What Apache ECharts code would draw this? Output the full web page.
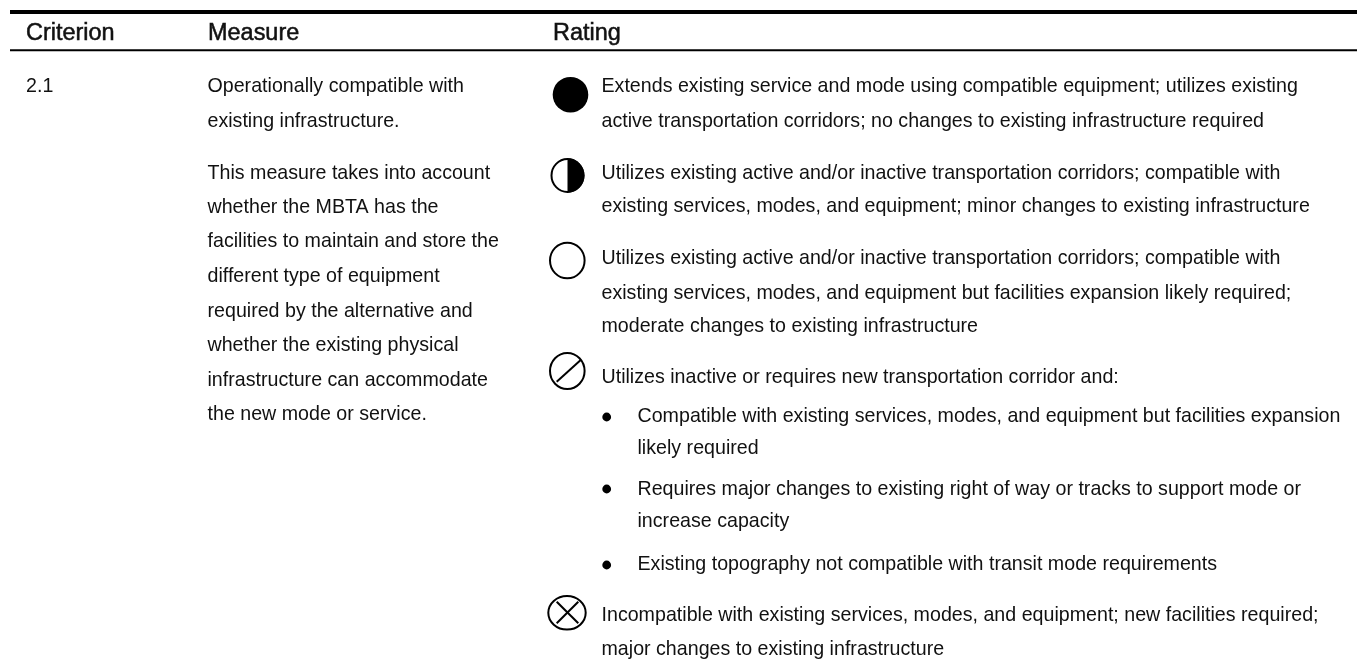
<!DOCTYPE html>
<html><head><meta charset="utf-8">
<style>html,body{margin:0;padding:0;background:#fff}#c{width:1362px;height:667px}</style>
<script src="https://cdn.jsdelivr.net/npm/echarts@6/dist/echarts.min.js"></script></head>
<body><div id="c"></div>
<script>
const headers = ["Criterion", "Measure", "Rating"];
const criterion = ["2.1"];
const measureLines = ["Operationally compatible with", "existing infrastructure.", "This measure takes into account", "whether the MBTA has the", "facilities to maintain and store the", "different type of equipment", "required by the alternative and", "whether the existing physical", "infrastructure can accommodate", "the new mode or service."];
const ratingLines = [
 "Extends existing service and mode using compatible equipment; utilizes existing",
 "active transportation corridors; no changes to existing infrastructure required",
 "Utilizes existing active and/or inactive transportation corridors; compatible with",
 "existing services, modes, and equipment; minor changes to existing infrastructure",
 "Utilizes existing active and/or inactive transportation corridors; compatible with",
 "existing services, modes, and equipment but facilities expansion likely required;",
 "moderate changes to existing infrastructure",
 "Utilizes inactive or requires new transportation corridor and:",
 "Incompatible with existing services, modes, and equipment; new facilities required;",
 "major changes to existing infrastructure"];
const bulletLines = [
 "Compatible with existing services, modes, and equipment but facilities expansion",
 "likely required",
 "Requires major changes to existing right of way or tracks to support mode or",
 "increase capacity",
 "Existing topography not compatible with transit mode requirements"];

const FONT = '"Liberation Sans",sans-serif';
const el = [];
const txt = (s, x, baseline, size=21, sx=0.935, stroke=0) => el.push({type:'text', x, y:baseline-size/3, scaleX:sx, style:{text:s, fill:'#111', stroke: stroke ? '#111' : null, lineWidth: stroke, font:`normal ${size}px ${FONT}`, textBaseline:'middle', textVerticalAlign:'middle'}});
const rule = (y, h) => el.push({type:'rect', shape:{x:10, y, width:1347, height:h}, style:{fill:'#000'}});
rule(10, 4); rule(49.3, 2);
[26, 208, 553].forEach((x, i) => txt(headers[i], x, 41.7, 23, 1.02, 0.5));
txt(criterion[0], 26, 93);
const mY = [93,128,180,214,248,283,318,352,387.5,421.5];
measureLines.forEach((s,i)=>txt(s,207.5,mY[i]));
const rY = [93,128,180,213.5,265,300,333.5,384,622,656];
ratingLines.forEach((s,i)=>txt(s,601.5,rY[i]));
const bY = [423,455,496.5,528,571.5];
bulletLines.forEach((s,i)=>txt(s,637.5,bY[i]));
[417,489,565].forEach(y=>el.push({type:'circle',shape:{cx:606.7,cy:y,r:4.4},style:{fill:'#000'}}));
const ring = (cx,cy,rx,ry)=>el.push({type:'ellipse',shape:{cx,cy,rx,ry},style:{fill:'#fff',stroke:'#000',lineWidth:2}});
el.push({type:'circle',shape:{cx:570.5,cy:94.7,r:17.8},style:{fill:'#000'}});
ring(567.5,175.5,16,16.5);
el.push({type:'sector',shape:{cx:567.5,cy:175.5,r0:0,r:17,startAngle:-Math.PI/2,endAngle:Math.PI/2},style:{fill:'#000'}});
ring(567.3,260.5,17.3,17.8);
ring(567.3,371,17.3,18);
el.push({type:'line',shape:{x1:556.7,y1:381.7,x2:580.7,y2:360},style:{stroke:'#000',lineWidth:2}});
ring(567,612.8,18.7,16.8);
el.push({type:'line',shape:{x1:556.7,y1:601.7,x2:578.3,y2:623.3},style:{stroke:'#000',lineWidth:2}});
el.push({type:'line',shape:{x1:578.3,y1:601.7,x2:556.7,y2:623.3},style:{stroke:'#000',lineWidth:2}});
const chart = echarts.init(document.getElementById('c'));
chart.setOption({animation:false, graphic:{elements:el}});
</script></body></html>
